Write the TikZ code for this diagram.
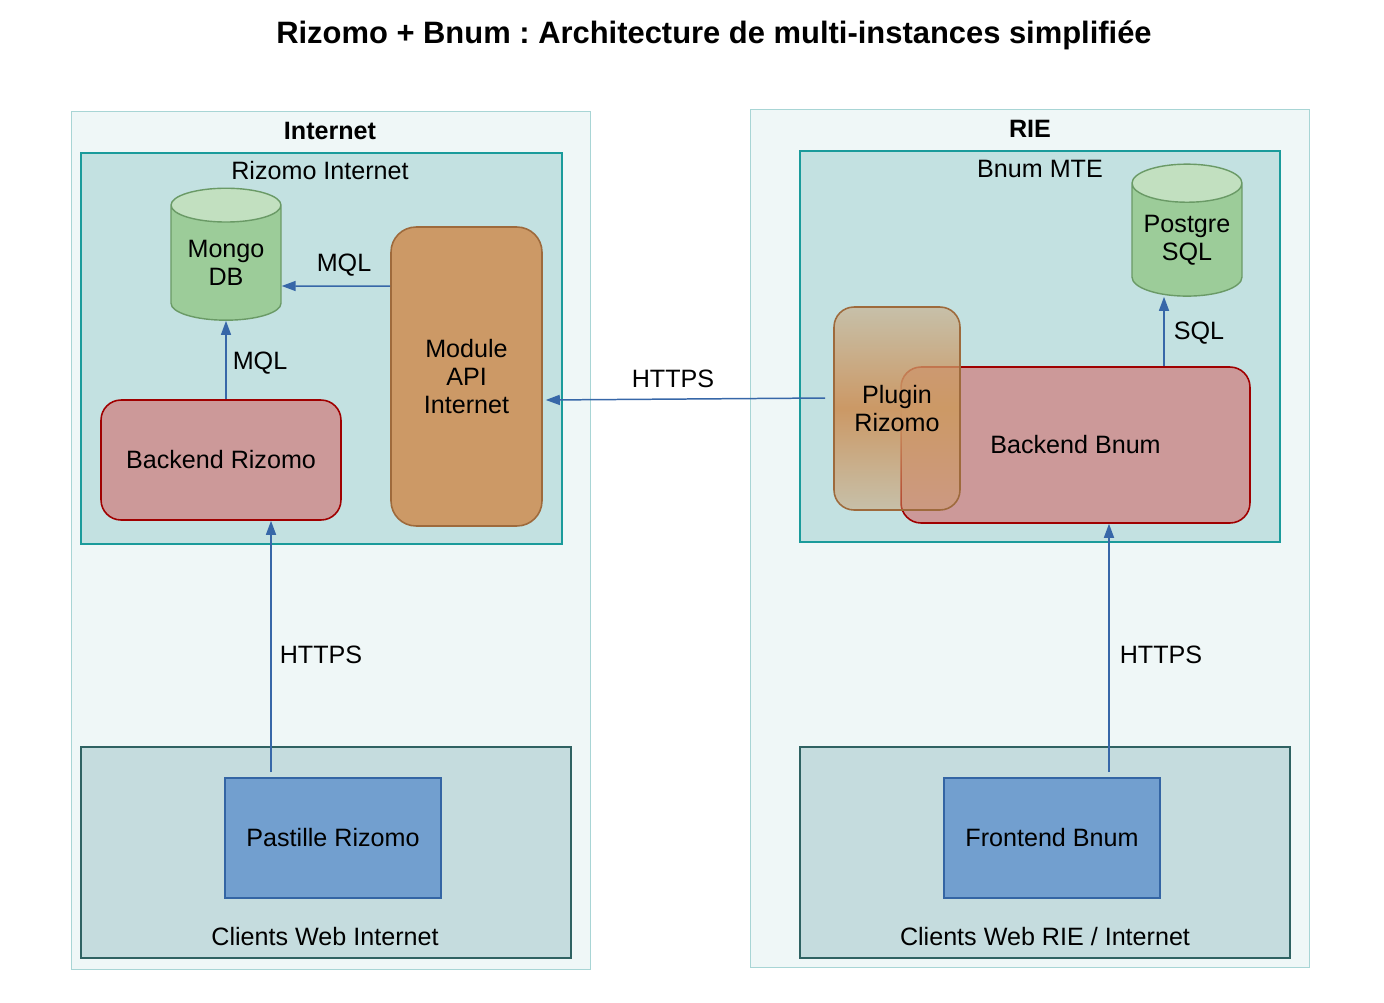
\documentclass[tikz,border=0pt]{standalone}
\usepackage{fontspec}
\setmainfont{Liberation Sans}
\usepackage{tikz}
\usetikzlibrary{shapes,arrows,arrows.meta,positioning,calc,fadings}
\usepackage{xcolor}
\frenchspacing
\definecolor{outerfill}{HTML}{EFF7F7}
\definecolor{outerline}{HTML}{A8D5D5}
\definecolor{innerfill}{HTML}{C3E1E1}
\definecolor{innerline}{HTML}{1A9B9B}
\definecolor{clientfill}{HTML}{C5DCDE}
\definecolor{clientline}{HTML}{2F6262}
\definecolor{pastillefill}{HTML}{729FCF}
\definecolor{pastilleline}{HTML}{3465A4}
\definecolor{flowblue}{HTML}{3767A8}
\definecolor{dbfill}{HTML}{9CCC99}
\definecolor{dbtop}{HTML}{C2E0C0}
\definecolor{dbline}{HTML}{6A9A66}
\definecolor{modfill}{HTML}{CC9966}
\definecolor{modline}{HTML}{9E6A3C}
\definecolor{backfill}{HTML}{CC9999}
\definecolor{backline}{HTML}{A00000}
\tikzfading[name=plugfade,top color=transparent!55,bottom color=transparent!55,middle color=transparent!0]

\begin{document}
\begin{tikzpicture}[x=0.02cm,y=-0.02cm,
    txt/.style={font=\fontsize{14.3}{15.9}\selectfont,align=center},
    boldtxt/.style={font=\fontsize{14.3}{15.9}\selectfont\bfseries},
    outerbox/.style={draw=outerline,fill=outerfill,line width=0.6pt},
    innerbox/.style={draw=innerline,fill=innerfill,line width=0.9pt},
    clientbox/.style={draw=clientline,fill=clientfill,line width=0.9pt},
    pastillebox/.style={draw=pastilleline,fill=pastillefill,line width=0.9pt,txt,minimum width=4.32cm,minimum height=2.4cm},
    backbox/.style={draw=backline,fill=backfill,line width=0.9pt,rounded corners=0.4cm,txt},
    db/.style={cylinder,shape border rotate=90,aspect=0.44,draw=dbline,line width=0.8pt,
        cylinder uses custom fill,cylinder body fill=dbfill,cylinder end fill=dbtop,
        minimum width=2.2cm,minimum height=2.64cm,inner sep=0pt,txt},
    flow/.style={-{Triangle[length=0.28cm,width=0.2cm]},draw=flowblue,line width=0.85pt}]
    \useasboundingbox (0,0) rectangle (1384,1002);

    \node[font=\fontsize{17.6}{20}\selectfont\bfseries] (title) at (714,35) {Rizomo + Bnum : Architecture de multi-instances simplifiée};

    % Internet side
    \node[outerbox,minimum width=10.4cm,minimum height=17.18cm] (internet) at (331,540.5) {};
    \node[boldtxt] (internetlbl) at (330,131) {Internet};
    \node[innerbox,minimum width=9.62cm,minimum height=7.82cm] (rizomoint) at (321.5,348.5) {};
    \node[txt] (rizomointlbl) at (320,171) {Rizomo Internet};
    \node[db] (mongo) at (226,263) {Mongo\\DB};
    \node[draw=modline,fill=modfill,line width=0.9pt,rounded corners=0.5cm,txt,minimum width=3.02cm,minimum height=5.98cm] (module) at (466.5,376.5) {Module\\API\\Internet};
    \node[backbox,minimum width=4.8cm,minimum height=2.4cm] (backrizomo) at (221,460) {Backend Rizomo};
    \node[clientbox,minimum width=9.8cm,minimum height=4.22cm] (clientsint) at (326,852.5) {};
    \node[txt] (clientsintlbl) at (325,937) {Clients Web Internet};
    \node[pastillebox] (pastille) at (333,838) {Pastille Rizomo};

    % RIE side
    \node[outerbox,minimum width=11.2cm,minimum height=17.18cm] (rie) at (1030,538.5) {};
    \node[boldtxt] (rielbl) at (1030,129) {RIE};
    \node[innerbox,minimum width=9.6cm,minimum height=7.82cm] (bnummte) at (1040,346.5) {};
    \node[txt] (bnummtelbl) at (1040,169) {Bnum MTE};
    \node[db] (postgres) at (1187,240) {Postgre\\SQL};
    \node[backbox,minimum width=6.98cm,minimum height=3.12cm] (backbnum) at (1075.5,445) {Backend Bnum};
    \node[draw=modline,line width=0.9pt,rounded corners=0.4cm,txt,
        preaction={fill=modfill,path fading=plugfade},
        minimum width=2.52cm,minimum height=4.06cm] (plugin) at (897,408.5) {Plugin\\Rizomo};
    \node[clientbox,minimum width=9.8cm,minimum height=4.22cm] (clientsrie) at (1045,852.5) {};
    \node[txt] (clientsrielbl) at (1045,937) {Clients Web RIE / Internet};
    \node[pastillebox] (frontend) at (1052,838) {Frontend Bnum};

    % flows
    \coordinate (httpsint) at ([xshift=-1.24cm]pastille.north);
    \coordinate (httpsrie) at ([xshift=1.14cm]frontend.north);
    \coordinate (sqlend) at ([xshift=-0.46cm]postgres.south);
    \draw[flow] ([yshift=1.81cm]module.west) -- ([yshift=-0.46cm]mongo.east);
    \draw[flow] (mongo.south |- backrizomo.north) -- (mongo.south);
    \draw[flow,shorten <=0.1cm] (httpsint) -- (httpsint |- backrizomo.south);
    \draw[flow,shorten <=0.1cm] (httpsrie) -- (httpsrie |- backbnum.south);
    \draw[flow] (sqlend |- backbnum.north) -- (sqlend);
    \draw[flow] ([xshift=-0.16cm,yshift=0.21cm]plugin.west) -- ([xshift=0.06cm,yshift=-0.47cm]module.east);

    \node[txt] (mqltop) at (344,265) {MQL};
    \node[txt] (mqlside) at (260,363) {MQL};
    \node[txt] (httpsintlbl) at (321,655) {HTTPS};
    \node[txt] (httpsrielbl) at (1161,655) {HTTPS};
    \node[txt] (sqllbl) at (1199,333) {SQL};
    \node[txt] (httpsmidlbl) at (673,379) {HTTPS};
\end{tikzpicture}
\end{document}
